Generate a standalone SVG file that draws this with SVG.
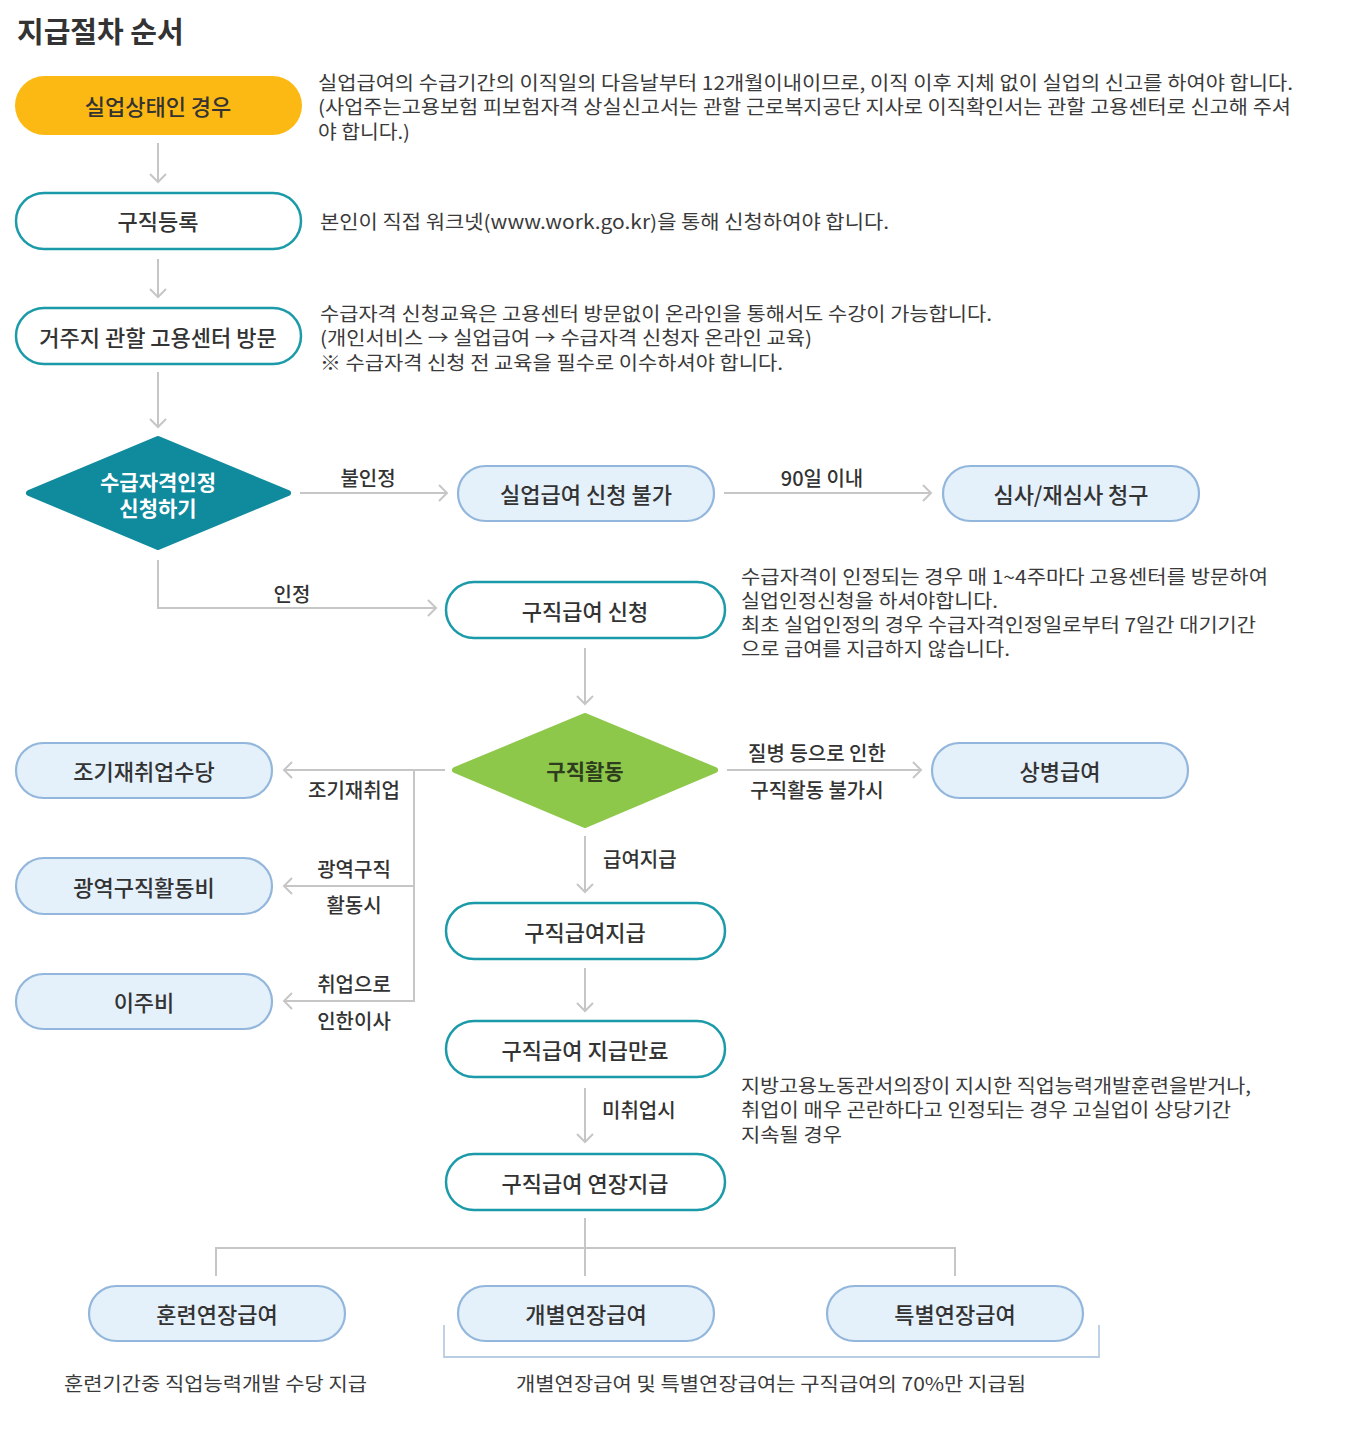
<svg xmlns="http://www.w3.org/2000/svg" width="1346" height="1439" viewBox="0 0 1346 1439">
<style>
text{font-family:"Noto Sans CJK KR","Noto Sans",sans-serif;fill:#333;}
.title{font-size:29px;font-weight:bold;}
.nl{font-size:22px;text-anchor:middle;dominant-baseline:central;font-weight:500;}
.desc{font-size:19px;dominant-baseline:central;fill:#3a3a3a;}
.lbl{font-size:20px;text-anchor:middle;dominant-baseline:central;font-weight:500;}
.lbll{font-size:20px;dominant-baseline:central;font-weight:500;}
.teal{fill:#fff;stroke:#1b9aa9;stroke-width:2.5;}
.blue{fill:#e4f0fa;stroke:#93b7dc;stroke-width:2.2;}
.conn{fill:none;stroke:#c6c6c6;stroke-width:2;}
.dtext{font-size:21px;text-anchor:middle;dominant-baseline:central;font-weight:bold;}
</style>
<defs>
<marker id="arr" markerUnits="userSpaceOnUse" markerWidth="12" markerHeight="20" refX="9" refY="9" orient="auto">
<path d="M1,1 L9,9 L1,17" fill="none" stroke="#c6c6c6" stroke-width="2"/>
</marker>
</defs>
<rect width="1346" height="1439" fill="#fff"/>
<text class="title" x="17" y="43">지급절차 순서</text>

<g id="connectors">
<line class="conn" x1="158" y1="143" x2="158" y2="182" marker-end="url(#arr)"/>
<line class="conn" x1="158" y1="259" x2="158" y2="297" marker-end="url(#arr)"/>
<line class="conn" x1="158" y1="372" x2="158" y2="427" marker-end="url(#arr)"/>
<line class="conn" x1="300" y1="493" x2="447" y2="493" marker-end="url(#arr)"/>
<line class="conn" x1="724" y1="493" x2="931" y2="493" marker-end="url(#arr)"/>
<polyline class="conn" points="158,560 158,608 436,608" marker-end="url(#arr)"/>
<line class="conn" x1="585" y1="648" x2="585" y2="704" marker-end="url(#arr)"/>
<line class="conn" x1="445" y1="770" x2="284" y2="770" marker-end="url(#arr)"/>
<polyline class="conn" points="414,770 414,1001 284,1001" marker-end="url(#arr)"/>
<line class="conn" x1="414" y1="886" x2="284" y2="886" marker-end="url(#arr)"/>
<line class="conn" x1="727" y1="770" x2="921" y2="770" marker-end="url(#arr)"/>
<line class="conn" x1="585" y1="836" x2="585" y2="892" marker-end="url(#arr)"/>
<line class="conn" x1="585" y1="968" x2="585" y2="1011" marker-end="url(#arr)"/>
<line class="conn" x1="585" y1="1088" x2="585" y2="1142" marker-end="url(#arr)"/>
<polyline class="conn" points="585,1218 585,1276"/>
<polyline class="conn" points="216,1276 216,1248 955,1248 955,1276"/>
<polyline fill="none" stroke="#b9cde2" stroke-width="1.8" points="444,1325 444,1357 1099,1357 1099,1325"/>
<text class="lbl" x="368" y="477">불인정</text>
<text class="lbl" x="822" y="477">90일 이내</text>
<text class="lbl" x="292" y="593">인정</text>
<text class="lbl" x="354" y="789">조기재취업</text>
<text class="lbl" x="354" y="868">광역구직</text>
<text class="lbl" x="354" y="904">활동시</text>
<text class="lbl" x="354" y="983">취업으로</text>
<text class="lbl" x="354" y="1020">인한이사</text>
<text class="lbl" x="817" y="752">질병 등으로 인한</text>
<text class="lbl" x="817" y="789">구직활동 불가시</text>
<text class="lbll" x="603" y="858">급여지급</text>
<text class="lbll" x="602" y="1109">미취업시</text>
</g>

<g id="n-unemployed">
<rect x="15" y="76" width="287" height="59" rx="29.5" fill="#fdb913"/>
<text class="nl" x="158" y="105">실업상태인 경우</text>
</g>
<text class="desc"><tspan x="318" y="81" textLength="975" lengthAdjust="spacingAndGlyphs">실업급여의 수급기간의 이직일의 다음날부터 12개월이내이므로, 이직 이후 지체 없이 실업의 신고를 하여야 합니다.</tspan><tspan x="318" y="105" textLength="973" lengthAdjust="spacingAndGlyphs">(사업주는고용보험 피보험자격 상실신고서는 관할 근로복지공단 지사로 이직확인서는 관할 고용센터로 신고해 주셔</tspan><tspan x="318" y="130" textLength="92" lengthAdjust="spacingAndGlyphs">야 합니다.)</tspan></text>

<g id="n-register">
<rect class="teal" x="16" y="193" width="285" height="56" rx="28"/>
<text class="nl" x="158" y="220">구직등록</text>
</g>
<text class="desc" x="320" y="220" textLength="569" lengthAdjust="spacingAndGlyphs">본인이 직접 워크넷(www.work.go.kr)을 통해 신청하여야 합니다.</text>

<g id="n-visit">
<rect class="teal" x="16" y="308" width="285" height="56" rx="28"/>
<text class="nl" x="158" y="336">거주지 관할 고용센터 방문</text>
</g>
<text class="desc"><tspan x="320" y="312" textLength="672" lengthAdjust="spacingAndGlyphs">수급자격 신청교육은 고용센터 방문없이 온라인을 통해서도 수강이 가능합니다.</tspan><tspan x="320" y="336" textLength="492" lengthAdjust="spacingAndGlyphs">(개인서비스 → 실업급여 → 수급자격 신청자 온라인 교육)</tspan><tspan x="320" y="361" textLength="463" lengthAdjust="spacingAndGlyphs">※ 수급자격 신청 전 교육을 필수로 이수하셔야 합니다.</tspan></text>

<g id="n-apply-qual">
<polygon points="29,493 158,439 288,493 158,547" fill="#0f8b9d" stroke="#0f8b9d" stroke-width="6" stroke-linejoin="round"/>
<text class="dtext" x="158" y="481" style="fill:#fff">수급자격인정</text>
<text class="dtext" x="158" y="507" style="fill:#fff">신청하기</text>
</g>

<g id="n-not-possible">
<rect class="blue" x="458" y="466" width="256" height="55" rx="27.5"/>
<text class="nl" x="586" y="493">실업급여 신청 불가</text>
</g>

<g id="n-review">
<rect class="blue" x="943" y="466" width="256" height="55" rx="27.5"/>
<text class="nl" x="1071" y="493">심사/재심사 청구</text>
</g>

<g id="n-apply-benefit">
<rect class="teal" x="446" y="582" width="279" height="56" rx="28"/>
<text class="nl" x="585" y="610">구직급여 신청</text>
</g>
<text class="desc"><tspan x="741" y="575" textLength="527" lengthAdjust="spacingAndGlyphs">수급자격이 인정되는 경우 매 1~4주마다 고용센터를 방문하여</tspan><tspan x="741" y="599" textLength="257" lengthAdjust="spacingAndGlyphs">실업인정신청을 하셔야합니다.</tspan><tspan x="741" y="623" textLength="515" lengthAdjust="spacingAndGlyphs">최초 실업인정의 경우 수급자격인정일로부터 7일간 대기기간</tspan><tspan x="741" y="647" textLength="269" lengthAdjust="spacingAndGlyphs">으로 급여를 지급하지 않습니다.</tspan></text>

<g id="n-job-search">
<polygon points="455,770 585,716 715,770 585,825" fill="#8dc84a" stroke="#8dc84a" stroke-width="6" stroke-linejoin="round"/>
<text class="dtext" x="585" y="770" style="fill:#2e3d1e">구직활동</text>
</g>

<g id="n-early">
<rect class="blue" x="16" y="743" width="256" height="55" rx="27.5"/>
<text class="nl" x="144" y="770">조기재취업수당</text>
</g>
<g id="n-wide">
<rect class="blue" x="16" y="858" width="256" height="56" rx="28"/>
<text class="nl" x="144" y="886">광역구직활동비</text>
</g>
<g id="n-move">
<rect class="blue" x="16" y="974" width="256" height="55" rx="27.5"/>
<text class="nl" x="144" y="1001">이주비</text>
</g>
<g id="n-sick">
<rect class="blue" x="932" y="743" width="256" height="55" rx="27.5"/>
<text class="nl" x="1060" y="770">상병급여</text>
</g>

<g id="n-pay">
<rect class="teal" x="446" y="903" width="279" height="56" rx="28"/>
<text class="nl" x="585" y="931">구직급여지급</text>
</g>
<g id="n-end">
<rect class="teal" x="446" y="1021" width="279" height="56" rx="28"/>
<text class="nl" x="585" y="1049">구직급여 지급만료</text>
</g>
<text class="desc"><tspan x="741" y="1084" textLength="510" lengthAdjust="spacingAndGlyphs">지방고용노동관서의장이 지시한 직업능력개발훈련을받거나,</tspan><tspan x="741" y="1108" textLength="490" lengthAdjust="spacingAndGlyphs">취업이 매우 곤란하다고 인정되는 경우 고실업이 상당기간</tspan><tspan x="741" y="1133" textLength="101" lengthAdjust="spacingAndGlyphs">지속될 경우</tspan></text>
<g id="n-extend">
<rect class="teal" x="446" y="1154" width="279" height="56" rx="28"/>
<text class="nl" x="585" y="1182">구직급여 연장지급</text>
</g>

<g id="n-training">
<rect class="blue" x="89" y="1286" width="256" height="55" rx="27.5"/>
<text class="nl" x="217" y="1313">훈련연장급여</text>
</g>
<g id="n-individual">
<rect class="blue" x="458" y="1286" width="256" height="55" rx="27.5"/>
<text class="nl" x="586" y="1313">개별연장급여</text>
</g>
<g id="n-special">
<rect class="blue" x="827" y="1286" width="256" height="55" rx="27.5"/>
<text class="nl" x="955" y="1313">특별연장급여</text>
</g>
<text class="desc" x="64" y="1382" textLength="303" lengthAdjust="spacingAndGlyphs">훈련기간중 직업능력개발 수당 지급</text>
<text class="desc" x="516" y="1382" textLength="510" lengthAdjust="spacingAndGlyphs">개별연장급여 및 특별연장급여는 구직급여의 70%만 지급됨</text>
</svg>
